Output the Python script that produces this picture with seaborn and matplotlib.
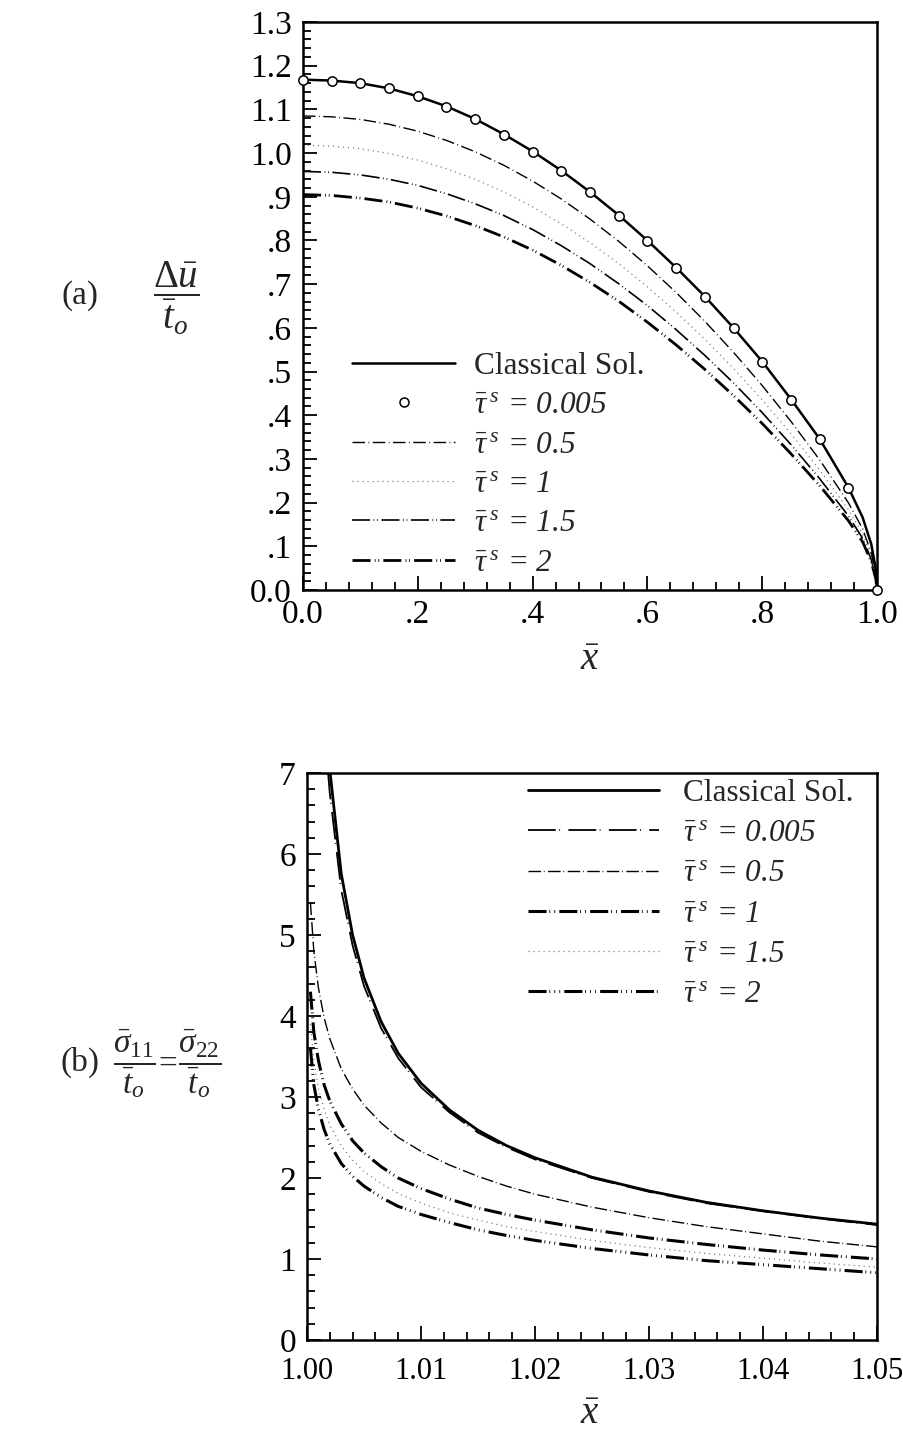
import numpy as np
import pandas as pd
import matplotlib
matplotlib.use("Agg")
import matplotlib.pyplot as plt
from matplotlib.lines import Line2D
from matplotlib.ticker import MultipleLocator
import seaborn as sns

# ---------------- data: panel (a) crack opening displacement ----------------
x_a = [0.0, 0.05, 0.1, 0.15, 0.2, 0.25, 0.3, 0.35, 0.4, 0.45, 0.5, 0.55, 0.6,
       0.65, 0.7, 0.75, 0.8, 0.85, 0.9, 0.95, 0.975, 0.99, 0.998, 1.0]
u_classical = [1.168, 1.166, 1.160, 1.148, 1.130, 1.107, 1.078, 1.043, 1.004, 0.960,
               0.911, 0.858, 0.800, 0.738, 0.672, 0.600, 0.523, 0.437, 0.346, 0.235,
               0.166, 0.105, 0.047, 0.0]
x_a_pts = [0.0, 0.05, 0.1, 0.15, 0.2, 0.25, 0.3, 0.35, 0.4, 0.45, 0.5, 0.55, 0.6,
           0.65, 0.7, 0.75, 0.8, 0.85, 0.9, 0.95, 1.0]
u_tau0005 = [1.168, 1.166, 1.160, 1.148, 1.130, 1.106, 1.077, 1.042, 1.003, 0.959,
             0.910, 0.857, 0.799, 0.737, 0.671, 0.599, 0.522, 0.436, 0.345, 0.234, 0.0]
u_tau05 = [1.085, 1.083, 1.077, 1.066, 1.050, 1.029, 1.003, 0.972, 0.936, 0.895,
           0.849, 0.798, 0.742, 0.681, 0.615, 0.544, 0.468, 0.386, 0.298, 0.200,
           0.140, 0.085, 0.035, 0.0]
u_tau1 = [1.018, 1.016, 1.010, 0.999, 0.984, 0.964, 0.940, 0.911, 0.877, 0.838,
          0.795, 0.747, 0.694, 0.636, 0.574, 0.507, 0.435, 0.358, 0.275, 0.184,
          0.128, 0.077, 0.030, 0.0]
u_tau15 = [0.958, 0.956, 0.950, 0.940, 0.926, 0.907, 0.884, 0.857, 0.825, 0.788,
           0.747, 0.701, 0.651, 0.596, 0.537, 0.474, 0.406, 0.333, 0.255, 0.170,
           0.118, 0.070, 0.027, 0.0]
u_tau2 = [0.905, 0.903, 0.897, 0.888, 0.874, 0.856, 0.834, 0.808, 0.778, 0.743,
          0.704, 0.661, 0.613, 0.561, 0.505, 0.445, 0.381, 0.312, 0.239, 0.159,
          0.110, 0.065, 0.025, 0.0]

xticks_a = [0.0, 0.2, 0.4, 0.6, 0.8, 1.0]
xticklabels_a = ["0.0", ".2", ".4", ".6", ".8", "1.0"]
yticks_a = [0.0, 0.1, 0.2, 0.3, 0.4, 0.5, 0.6, 0.7, 0.8, 0.9, 1.0, 1.1, 1.2, 1.3]
yticklabels_a = ["0.0", ".1", ".2", ".3", ".4", ".5", ".6", ".7", ".8", ".9",
                 "1.0", "1.1", "1.2", "1.3"]

# ---------------- data: panel (b) stress ahead of the crack tip ----------------
x_b = [1.0003, 1.0006, 1.001, 1.0015, 1.002, 1.003, 1.004, 1.005, 1.0065, 1.008,
       1.01, 1.0125, 1.015, 1.0175, 1.02, 1.025, 1.03, 1.035, 1.04, 1.045, 1.05]
s_classical = [18.2, 12.9, 9.96, 8.13, 7.04, 5.76, 5.0, 4.47, 3.93, 3.54,
               3.17, 2.84, 2.59, 2.40, 2.25, 2.01, 1.84, 1.70, 1.595, 1.505, 1.43]
s_tau0005 = [12.0, 10.0, 8.9, 7.6, 6.75, 5.56, 4.87, 4.37, 3.85, 3.48,
             3.12, 2.81, 2.56, 2.38, 2.23, 2.00, 1.83, 1.69, 1.59, 1.50, 1.42]
s_tau05 = [5.4, 4.8, 4.35, 3.98, 3.72, 3.35, 3.1, 2.9, 2.68, 2.5,
           2.33, 2.16, 2.02, 1.9, 1.8, 1.64, 1.51, 1.40, 1.31, 1.22, 1.15]
s_tau1 = [4.3, 3.8, 3.45, 3.15, 2.95, 2.67, 2.46, 2.31, 2.14, 2.0,
          1.87, 1.74, 1.63, 1.55, 1.48, 1.36, 1.26, 1.18, 1.11, 1.05, 1.0]
s_tau15 = [3.9, 3.45, 3.1, 2.85, 2.65, 2.4, 2.22, 2.08, 1.93, 1.81,
           1.69, 1.57, 1.48, 1.40, 1.34, 1.23, 1.14, 1.07, 1.01, 0.95, 0.90]
s_tau2 = [3.6, 3.15, 2.85, 2.6, 2.42, 2.18, 2.02, 1.9, 1.76, 1.65,
          1.55, 1.45, 1.36, 1.29, 1.23, 1.13, 1.05, 0.98, 0.93, 0.88, 0.83]

xticks_b = [1.00, 1.01, 1.02, 1.03, 1.04, 1.05]
xticklabels_b = ["1.00", "1.01", "1.02", "1.03", "1.04", "1.05"]
yticks_b = [0, 1, 2, 3, 4, 5, 6, 7]
yticklabels_b = ["0", "1", "2", "3", "4", "5", "6", "7"]

# italic digits come from the sf slot, which is mapped to the italic serif face
labels_a = ["Classical Sol.",
            r"$\bar{\tau}^{\;s}\;=\,\mathsf{0.005}$",
            r"$\bar{\tau}^{\;s}\;=\,\mathsf{0.5}$",
            r"$\bar{\tau}^{\;s}\;=\,\mathsf{1}$",
            r"$\bar{\tau}^{\;s}\;=\,\mathsf{1.5}$",
            r"$\bar{\tau}^{\;s}\;=\,\mathsf{2}$"]
labels_b = labels_a

# ---------------- style ----------------
sns.set_style("ticks")
plt.rcParams["font.family"] = ["Liberation Serif", "DejaVu Serif"]
plt.rcParams["mathtext.fontset"] = "custom"
plt.rcParams["mathtext.rm"] = "Liberation Serif"
plt.rcParams["mathtext.it"] = "Liberation Serif:italic"
plt.rcParams["mathtext.bf"] = "Liberation Serif:bold"
plt.rcParams["mathtext.sf"] = "Liberation Serif:italic"
plt.rcParams["mathtext.fallback"] = "stix"
plt.rcParams["lines.scale_dashes"] = False
TICK_FS = 24
LEG_FS = 22.5

fig = plt.figure(figsize=(9.04, 14.34), dpi=100)
W, H = 904.0, 1434.0


def frame(px_left, px_right, px_top, px_bottom):
    return fig.add_axes([px_left / W, 1 - px_bottom / H,
                         (px_right - px_left) / W, (px_bottom - px_top) / H])


ax_a = frame(303, 877, 22, 590)
ax_b = frame(307, 877, 773, 1340)

# line styles (dash patterns in points)
ls_a = {
    "tau05": dict(lw=1.0, ls=(0, (9, 2.5, 0.6, 2.5))),
    "tau1": dict(lw=0.9, ls=(0, (0.8, 2.8)), color="0.45"),
    "tau15": dict(lw=1.2, ls=(0, (13, 2.5, 0.6, 2.0, 0.6, 2.5))),
    "tau2": dict(lw=2.0, ls=(0, (13, 3, 0.6, 2.0, 0.6, 3))),
}


def draw(ax, x, y, lw, ls, color="k", zorder=2):
    df = pd.DataFrame({"x": x, "y": y})
    sns.lineplot(data=df, x="x", y="y", ax=ax, color=color, linewidth=lw,
                 sort=False, estimator=None, zorder=zorder)
    line = ax.get_lines()[-1]
    line.set_linestyle(ls)
    return line


# ---------------- panel (a) ----------------
draw(ax_a, x_a, u_tau2, **ls_a["tau2"])
draw(ax_a, x_a, u_tau15, **ls_a["tau15"])
draw(ax_a, x_a, u_tau1, **ls_a["tau1"])
draw(ax_a, x_a, u_tau05, **ls_a["tau05"])
draw(ax_a, x_a, u_classical, lw=1.8, ls="-", zorder=3)
sns.scatterplot(x=x_a_pts, y=u_tau0005, ax=ax_a, marker="o", s=45,
                facecolor="white", edgecolor="black", linewidth=1.1,
                zorder=4, clip_on=False)

ax_a.set_xlim(0, 1)
ax_a.set_ylim(0, 1.3)

h_a = [Line2D([], [], color="k", lw=1.8, ls="-"),
       Line2D([], [], ls="none", marker="o", ms=6.5, mfc="white", mec="k", mew=1.1),
       Line2D([], [], color="k", lw=1.0, ls=ls_a["tau05"]["ls"]),
       Line2D([], [], color="0.45", lw=0.9, ls=ls_a["tau1"]["ls"]),
       Line2D([], [], color="k", lw=1.2, ls=ls_a["tau15"]["ls"]),
       Line2D([], [], color="k", lw=2.0, ls=ls_a["tau2"]["ls"])]
ax_a.legend(h_a, labels_a, loc="upper left",
            bbox_to_anchor=(352 / W, 1 - 352 / H), bbox_transform=fig.transFigure,
            frameon=False, fontsize=LEG_FS, handlelength=3.3, handletextpad=0.6,
            labelspacing=0.33, borderpad=0, borderaxespad=0)

# ---------------- panel (b) ----------------
ls_b = {
    "tau0005": dict(lw=1.3, ls=(0, (20, 2.5, 0.6, 6))),
    "tau05": dict(lw=1.0, ls=(0, (9, 2, 0.6, 2.5))),
    "tau1": dict(lw=2.2, ls=(0, (13, 2, 0.6, 3, 0.6, 3))),
    "tau15": dict(lw=0.9, ls=(0, (0.8, 2.8)), color="0.45"),
    "tau2": dict(lw=2.2, ls=(0, (13, 2, 0.6, 3, 0.6, 3, 0.6, 3))),
}
draw(ax_b, x_b, s_tau2, **ls_b["tau2"])
draw(ax_b, x_b, s_tau15, **ls_b["tau15"])
draw(ax_b, x_b, s_tau1, **ls_b["tau1"])
draw(ax_b, x_b, s_tau05, **ls_b["tau05"])
draw(ax_b, x_b, s_tau0005, **ls_b["tau0005"])
draw(ax_b, x_b, s_classical, lw=2.0, ls="-", zorder=3)
ax_b.set_xlim(1.0, 1.05)
ax_b.set_ylim(0, 7)

h_b = [Line2D([], [], color="k", lw=2.0, ls="-")]
for key in ["tau0005", "tau05", "tau1", "tau15", "tau2"]:
    st = ls_b[key]
    h_b.append(Line2D([], [], color=st.get("color", "k"), lw=st["lw"], ls=st["ls"]))
ax_b.legend(h_b, labels_b, loc="upper left",
            bbox_to_anchor=(528 / W, 1 - 779 / H), bbox_transform=fig.transFigure,
            frameon=False, fontsize=LEG_FS, handlelength=4.2, handletextpad=0.75,
            labelspacing=0.36, borderpad=0, borderaxespad=0)

# ---------------- axes decoration ----------------
for ax, xt, xtl, yt, ytl, xminor, yminor in [
        (ax_a, xticks_a, xticklabels_a, yticks_a, yticklabels_a, 0.04, 0.02),
        (ax_b, xticks_b, xticklabels_b, yticks_b, yticklabels_b, 0.002, 0.2)]:
    ax.set_xticks(xt)
    ax.set_xticklabels(xtl)
    ax.set_yticks(yt)
    ax.set_yticklabels(ytl)
    ax.xaxis.set_minor_locator(MultipleLocator(xminor))
    ax.yaxis.set_minor_locator(MultipleLocator(yminor))
    ax.tick_params(which="both", direction="in", top=False, right=False,
                   width=1.3, colors="k", labelsize=TICK_FS)
    ax.tick_params(which="major", length=10, pad=8)
    ax.tick_params(which="minor", length=6)
    ax.set_xlabel("")
    ax.set_ylabel("")
    for sp in ax.spines.values():
        sp.set_visible(True)
        sp.set_linewidth(1.8)
        sp.set_color("k")
    ax.set_facecolor("white")

ax_a.tick_params(axis="x", which="major", pad=7)
ax_b.tick_params(axis="x", which="major", pad=12, labelsize=22)

# panel tags, axis titles
fig.text(80 / W, 1 - 296 / H, "(a)", fontsize=24, ha="center", va="center")
fig.text(80 / W, 1 - 1062 / H, "(b)", fontsize=24, ha="center", va="center")
fig.text(176 / W, 1 - 298 / H, r"$\dfrac{\Delta\bar{u}}{\bar{t}_o}$",
         fontsize=28, ha="center", va="center")
fig.text(167 / W, 1 - 1064 / H,
         r"$\dfrac{\bar{\sigma}_{11}}{\bar{t}_o}\!=\!\dfrac{\bar{\sigma}_{22}}{\bar{t}_o}$",
         fontsize=24, ha="center", va="center")
fig.text(590 / W, 1 - 660 / H, r"$\bar{x}$", fontsize=28, ha="center", va="center")
fig.text(590 / W, 1 - 1414 / H, r"$\bar{x}$", fontsize=28, ha="center", va="center")

fig.savefig("out.png", dpi=100, facecolor="white")
